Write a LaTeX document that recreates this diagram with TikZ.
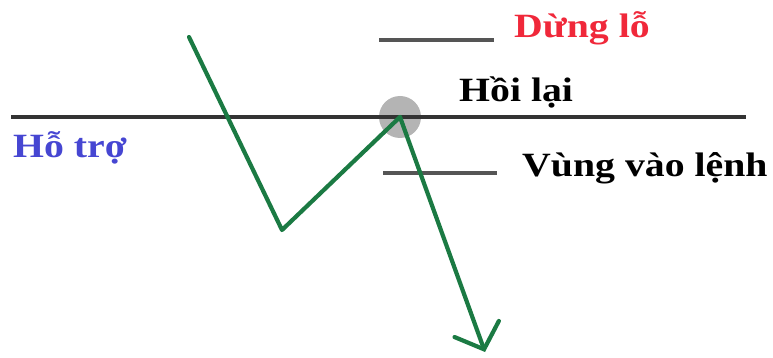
\documentclass[tikz,border=0pt]{standalone}
\usepackage{fontspec}
\setmainfont{Liberation Serif}[FakeStretch=1.17]
\usepackage{tikz}
\usetikzlibrary{arrows.meta,positioning}
\definecolor{trendGreen}{HTML}{1B7A43}
\definecolor{supportInk}{HTML}{333333}
\definecolor{levelGray}{HTML}{555555}
\definecolor{pivotGray}{HTML}{B4B4B4}
\definecolor{stopRed}{HTML}{F0283A}
\definecolor{supportBlue}{HTML}{4646D2}

\begin{document}
\begin{tikzpicture}[x=1pt,y=-1pt,
    lbl/.style={anchor=base west,inner sep=0pt,font=\fontsize{34}{36}\selectfont\bfseries},
    lvl/.style={draw=levelGray,line width=4pt},
    trend/.style={trendGreen,line width=4.2pt,line cap=round,line join=round},
    pivot/.style={circle,fill=pivotGray,minimum size=42pt,inner sep=0pt}]

  \useasboundingbox (0,0) rectangle (773,358);

  % support level
  \coordinate (sL) at (11,117);
  \coordinate (sR) at (746,117);
  \node[pivot] (pv) at (400,117) {};
  \draw[supportInk,line width=4pt] (sL) -- (sR);

  % stop and entry levels
  \coordinate (stopL) at (379,40);
  \coordinate (stopR) at (494,40);
  \coordinate (entL) at (383,173);
  \coordinate (entR) at (497,173);
  \draw[lvl] (stopL) -- (stopR);
  \draw[lvl] (entL) -- (entR);

  % labels
  \node[lbl,text=stopRed] (stop) at (514,38) {Dừng lỗ};
  \node[lbl] (retest) at (459,102) {Hồi lại};
  \node[lbl] (entry) at (522,176) {Vùng vào lệnh};
  \node[lbl,text=supportBlue] (supp) at (13,158) {Hỗ trợ};

  % price path
  \coordinate (p0) at (189,37);
  \coordinate (p1) at (282,230);
  \coordinate (p2) at (pv.center);
  \coordinate (p3) at (485,352);
  \draw[trend] (p0) -- (p1) -- (p2);
  \draw[trend,-{Straight Barb[angle=95:32pt,line cap=round]}] (p2) -- (p3);
\end{tikzpicture}
\end{document}
